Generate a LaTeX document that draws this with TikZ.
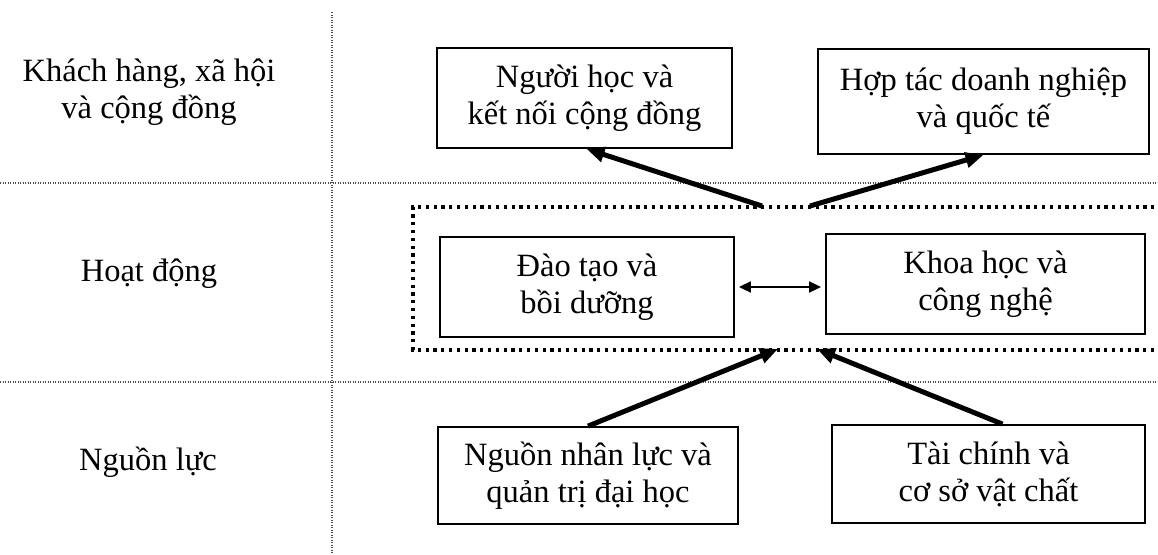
\documentclass[tikz,border=0pt]{standalone}
\usepackage{fontspec}
\setmainfont{Liberation Serif}
\usetikzlibrary{arrows.meta}
\begin{document}
\begin{tikzpicture}[x=1pt,y=-1pt,
  txt/.style={font=\fontsize{32.5}{37}\selectfont, align=center, inner sep=0pt},
  box/.style={txt, draw, line width=1.8pt},
  sep/.style={line width=1.1pt, gray!60!black, dash pattern=on 1pt off 1.5pt},
  group/.style={line width=3.2pt, dash pattern=on 3.2pt off 4.6pt},
  flow/.style={line width=5pt, -{Triangle[length=18pt,width=15pt]}},
  link/.style={line width=1.8pt, {Triangle[length=12pt,width=11pt]}-{Triangle[length=12pt,width=11pt]}}]
\useasboundingbox[fill=white] (0,0) rectangle (1158,554);

% row and column separators
\draw[sep] (0,183) -- (1158,183);
\draw[sep] (0,382) -- (1158,382);
\draw[sep] (332,12) -- (332,554);

% row labels
\node[txt] (l1) at (149,92) {Khách hàng, xã hội\\và cộng đồng};
\node[txt] (l2) at (149,274) {Hoạt động};
\node[txt] (l3) at (148,462) {Nguồn lực};

% activity group frame (open on the right)
\draw[group] (1170,207) -- (413,207) -- (413,350) -- (1170,350);

% boxes
\node[box, minimum width=295pt, minimum height=100pt] (nh) at (584.5,98) {Người học và\\kết nối cộng đồng};
\node[box, minimum width=331pt, minimum height=105pt] (ht) at (983.5,101.5) {Hợp tác doanh nghiệp\\và quốc tế};
\node[box, minimum width=294pt, minimum height=100pt] (dt) at (587,287) {Đào tạo và\\bồi dưỡng};
\node[box, minimum width=319pt, minimum height=100pt] (kh) at (985.5,284) {Khoa học và\\công nghệ};
\node[box, minimum width=300pt, minimum height=97pt] (nl) at (588,475.5) {Nguồn nhân lực và\\quản trị đại học};
\node[box, minimum width=313pt, minimum height=98pt] (tc) at (988.5,474) {Tài chính và\\cơ sở vật chất};

% arrow ends on the group frame
\coordinate (gtl) at (762,206);
\coordinate (gtr) at (810,206);
\coordinate (gbl) at (778,349);
\coordinate (gbr) at (817,349);

% connectors
\draw[flow] (gtl) -- ([xshift=2pt]nh.south);
\draw[flow] (gtr) -- (ht.south);
\draw[flow] (nl.north) -- (gbl);
\draw[flow] ([xshift=14pt]tc.north) -- (gbr);
\draw[link, shorten <=4pt, shorten >=4pt] (dt.east) -- (dt.east -| kh.west);
\end{tikzpicture}
\end{document}
